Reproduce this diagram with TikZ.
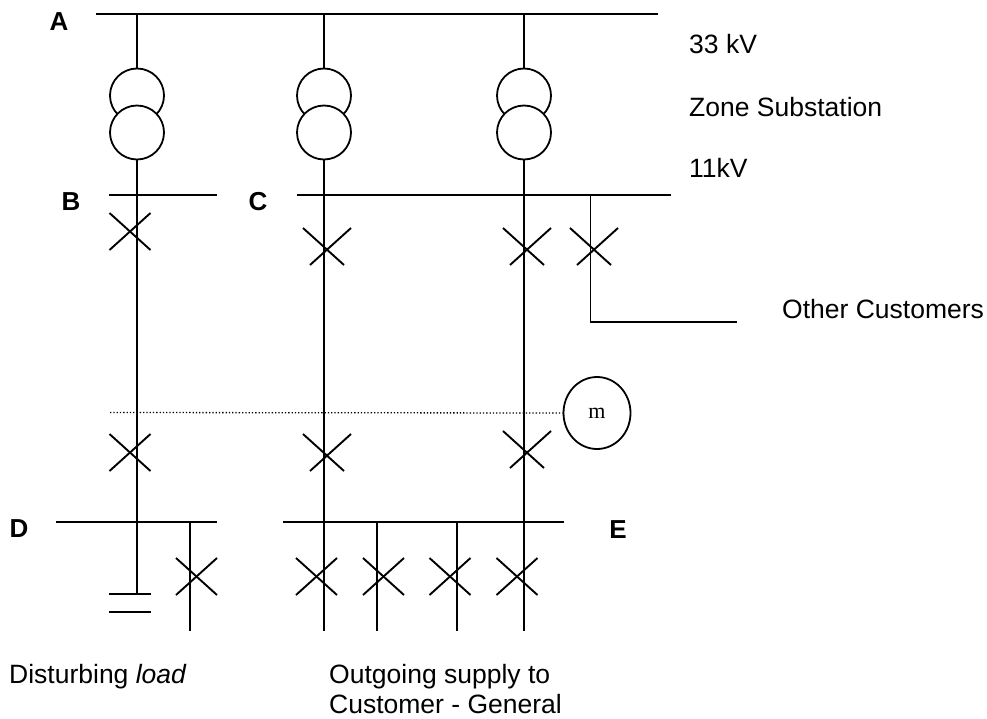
\documentclass[tikz,border=0pt]{standalone}
\usepackage{fontspec}
\setmainfont{Liberation Sans}
\newfontfamily\mserif{Liberation Serif}
\usetikzlibrary{shapes.geometric}
\tikzset{
  line/.style={line width=1.9pt},
  bus/.style={line width=2.1pt},
  winding/.style={circle,draw,line width=1.8pt,fill=white,minimum size=54pt,inner sep=0pt},
  busname/.style={font=\fontsize{26}{30}\selectfont\bfseries,inner sep=0pt},
  caption/.style={font=\fontsize{26.5}{30}\selectfont,inner sep=0pt,anchor=base west}
}
\begin{document}
\begin{tikzpicture}[x=1pt,y=-1pt]
    \useasboundingbox (0,0) rectangle (987,718);

    % --- Busbars ---
    \coordinate (A1) at (96,14);   \coordinate (A2) at (658,14);
    \coordinate (B1) at (109,195); \coordinate (B2) at (217,195);
    \coordinate (C1) at (297,195); \coordinate (C2) at (671,195);
    \coordinate (D1) at (56,522);  \coordinate (D2) at (217,522);
    \coordinate (E1) at (283,522); \coordinate (E2) at (564,522);
    \draw[bus] (A1) -- (A2);
    \draw[line] (B1) -- (B2);
    \draw[line] (C1) -- (C2);
    \draw[bus] (D1) -- (D2);
    \draw[bus] (E1) -- (E2);

    % --- Feeders with transformers ---
    \foreach \name/\x/\z in {one/137/594, two/324/631, three/524/631} {
        \node[winding] (\name up) at (\x,95.5) {};
        \node[winding] (\name low) at (\x,132.5) {};
        \coordinate (\name top) at (\x,14);
        \coordinate (\name end) at (\x,\z);
        \draw[line] (\name top) -- (\name up.north);
        \draw[line] (\name low.south) -- (\name end);
    }

    % --- Other customers branch ---
    \coordinate (O1) at (590.5,195);
    \coordinate (O2) at (590.5,322);
    \coordinate (O3) at (737,322);
    \draw[line] (O1) -- (O2) -- (O3);

    % --- Short branches below D and E ---
    \foreach \x in {190,377,457} {
        \coordinate (S1) at (\x,522);
        \coordinate (S2) at (\x,631);
        \draw[line] (S1) -- (S2);
    }

    % --- Circuit breakers, straight crosses ---
    \foreach \x/\y in {130/213, 130/434, 196.5/558, 316.5/558, 383.5/558, 450/558, 517/558} {
        \draw[line] (\x-20.5,\y) -- (\x+20.5,\y+37);
        \draw[line] (\x+20.5,\y) -- (\x-20.5,\y+37);
    }

    % --- Circuit breakers, skewed crosses ---
    \foreach \x/\y in {303/228, 303/434, 503/228, 503/431, 570/228} {
        \draw[line] (\x,\y) -- (\x+41,\y+37);
        \draw[line] (\x+48,\y) -- (\x+7,\y+37);
    }

    % --- Capacitor plates ---
    \draw[line] (109,594) -- (151,594);
    \draw[line] (109,612) -- (151,612);

    % --- Meter and dotted measuring line ---
    \node[ellipse,draw,line width=1.8pt,minimum width=67pt,minimum height=72pt,inner sep=0pt,
          font=\fontsize{22}{24}\selectfont\mserif] (m) at (597,413) {m};
    \coordinate (M1) at (110,412.5);
    \draw[line width=1.3pt,dotted] (M1) -- (m.west);

    % --- Point labels ---
    \node[busname] (A) at (59,22) {A};
    \node[busname] (B) at (71,202) {B};
    \node[busname] (C) at (258,202) {C};
    \node[busname] (D) at (19,529) {D};
    \node[busname] (E) at (618,530) {E};

    % --- Texts ---
    \node[caption] (kv33) at (689,53) {33 kV};
    \node[caption] (zone) at (689,116) {Zone Substation};
    \node[caption] (kv11) at (689,177) {11kV};
    \node[caption] (other) at (782,318) {Other Customers};
    \node[caption] (load) at (9,683) {Disturbing \textit{load}};
    \node[caption] (supply) at (329,683) {Outgoing supply to};
    \node[caption] (general) at (329,713) {Customer - General};

\end{tikzpicture}
\end{document}
